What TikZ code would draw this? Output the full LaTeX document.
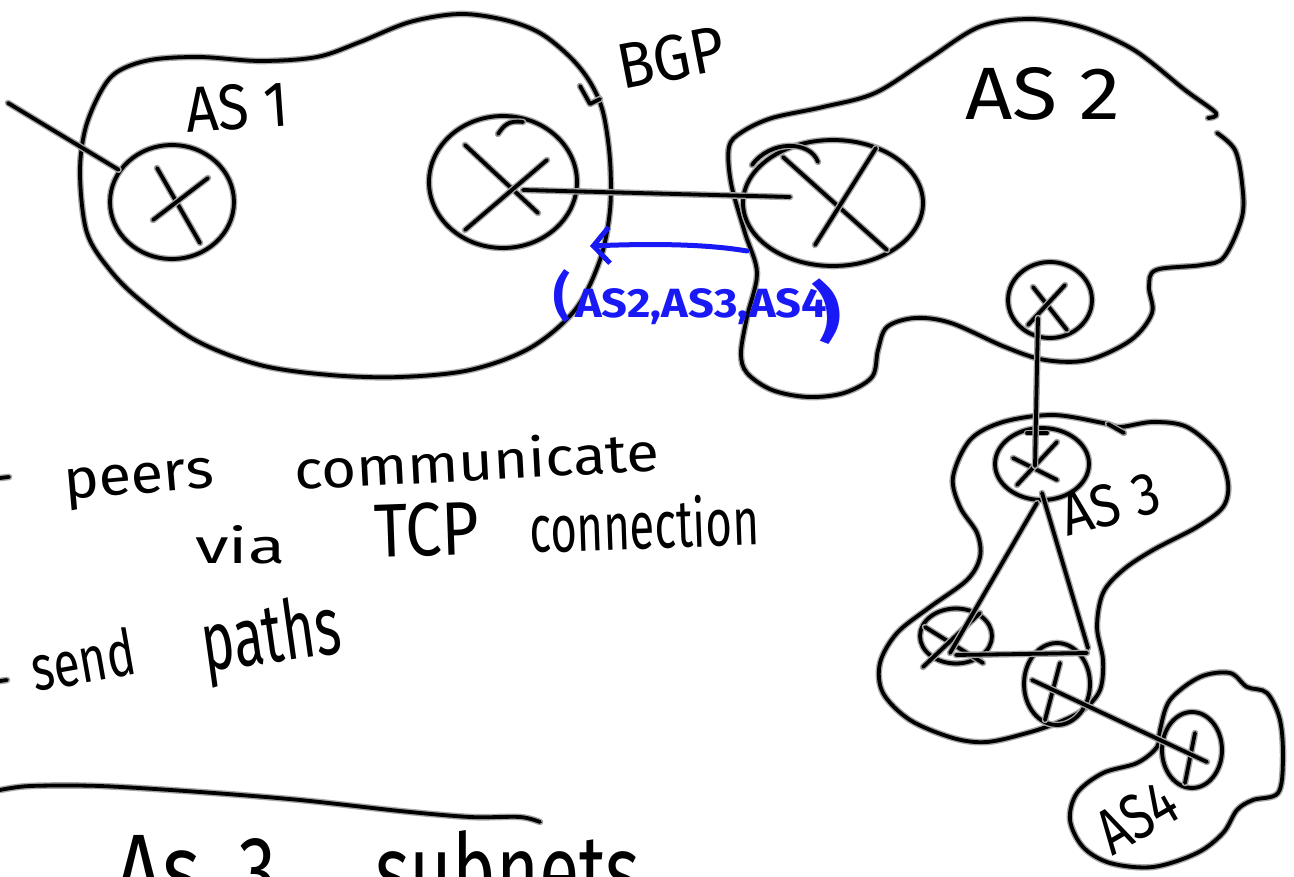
\documentclass[tikz,border=0pt]{standalone}
\usepackage{fontspec}
\setmainfont{Fira Sans}
\usetikzlibrary{shapes.geometric,arrows.meta,calc}
\definecolor{hwblue}{RGB}{25,25,245}
\newcommand{\hwtext}[3]{\resizebox{#1pt}{#2pt}{#3}}
\begin{document}
\begin{tikzpicture}[x=1pt,y=-1pt,
 ink/.style={line width=3.8pt,line cap=round,line join=round,preaction={draw=black!35,line width=6.6pt,line cap=round,line join=round}},
 blueink/.style={draw=hwblue,line width=5pt,line cap=round,line join=round},
 router/.style={ellipse,draw,ink,inner sep=0pt},
 lbl/.style={inner sep=0pt,anchor=base west},
 bluelbl/.style={lbl,text=hwblue},
]
\useasboundingbox (0,0) rectangle (1294,877);
\clip (0,0) rectangle (1294,877);

% ---------- AS outlines ----------
\draw[ink] plot[smooth cycle,tension=0.55] coordinates {
 (80,175) (85,130) (100,93) (117,72) (150,60) (200,57) (260,61) (317,57)
 (360,42) (410,22) (460,14) (505,20) (540,33) (570,57) (590,82) (603,112)
 (610,160) (610,210) (600,260) (575,310) (530,348) (470,370) (400,377)
 (330,375) (260,365) (195,340) (140,300) (110,270) (87,233)};

\draw[ink] plot[smooth,tension=0.55] coordinates {
 (1217,133) (1235,150) (1242,183) (1242,217) (1224,257) (1202,265) (1156,270)
 (1149,287) (1152,313) (1131,340) (1088,360) (1045,360) (1005,347) (951,323)
 (915,318) (887,327) (878,350) (872,377) (844,393) (808,397) (772,390)
 (747,373) (741,353) (747,317) (757,273) (745,233) (731,183) (729,147)
 (742,132) (772,118) (823,107) (875,93) (927,60) (979,27) (1030,19)
 (1082,27) (1134,50) (1185,90) (1216,113) (1208,118)};

\draw[ink] plot[smooth cycle,tension=0.55] coordinates {
 (953,477) (970,440) (1003,422) (1053,415) (1103,423) (1120,427) (1153,422)
 (1187,427) (1217,453) (1228,483) (1223,507) (1197,527) (1153,550)
 (1123,570) (1103,593) (1097,627) (1103,660) (1100,690) (1083,710)
 (1057,723) (1027,733) (987,742) (953,738) (910,720) (883,693) (880,663)
 (897,633) (930,607) (967,580) (980,557) (977,533) (960,507)};
\draw[ink] (1108,424) -- (1124,433);

\draw[ink] plot[smooth cycle,tension=0.55] coordinates {
 (1160,730) (1170,700) (1200,677) (1230,673) (1247,687) (1267,693)
 (1280,720) (1283,760) (1278,793) (1253,800) (1237,810) (1223,833)
 (1197,853) (1153,867) (1110,863) (1083,847) (1070,820) (1077,793)
 (1103,773) (1137,763) (1157,747)};

% ---------- routers ----------
\node[router,minimum width=124pt,minimum height=114pt] (R1) at (172,202) {};
\node[router,minimum width=148pt,minimum height=132pt] (R2) at (503,182) {};
\node[router,minimum width=180pt,minimum height=126pt] (R3) at (833,203) {};
\node[router,minimum width=84pt,minimum height=76pt] (R4) at (1050,300) {};
\node[router,minimum width=94pt,minimum height=72pt] (R5) at (1042,464) {};
\node[router,minimum width=72pt,minimum height=55pt] (R6) at (956,636) {};
\node[router,minimum width=66pt,minimum height=82pt] (R7) at (1057,684) {};
\node[router,minimum width=60pt,minimum height=76pt] (R8) at (1192,750) {};

% crosses
\draw[ink] (R1.center) ++(-15,-34) -- ++(43,75);
\draw[ink] (R1.center) ++(36,-24) -- ++(-55,42);
\draw[ink] (R2.center) ++(-38,-37) -- ++(73,68);
\draw[ink] (R2.center) ++(44,-22) -- ++(-82,70);
\draw[ink] (R2.center) ++(-5,-48) .. controls ++(6,-9) and ++(-14,-2) .. ++(25,-12);
\draw[ink] (R3.center) ++(-50,-46) -- ++(104,93);
\draw[ink] (R3.center) ++(43,-55) -- ++(-61,97);
\draw[ink] (R3.center) ++(-15,-41) .. controls ++(-8,-22) and ++(18,-25) .. ++(-66,3);
\draw[ink] (R4.center) ++(-17,-13) -- ++(34,43);
\draw[ink] (R4.center) ++(15,-15) -- ++(-37,40);
\draw[ink] (R5.center) ++(-29,-6) -- ++(44,22);
\draw[ink] (R5.center) ++(15,-22) -- ++(-40,43);
\draw[ink] (R5.center) ++(-15,-31) -- ++(20,0);
\draw[ink] (R6.center) ++(-31,-9) -- ++(58,36);
\draw[ink] (R6.center) ++(-33,31) -- ++(57,-54);
\draw[ink] (R7.center) ++(3,-21) -- ++(-15,57);
\draw[ink] (R8.center) ++(3,-17) -- ++(-10,50);

% ---------- connectors ----------
\coordinate (ext) at (8,103);
\draw[ink] (ext) -- (R1);
\draw[ink] ($(R2.center)+(20,8)$) -- ($(R3.center)+(-43,-6)$);
\draw[ink] ($(R4.center)+(-12,18)$) -- ($(R5.center)+(-7,2)$);
\draw[ink] ($(R5.center)+(-5,39)$) -- ($(R6.center)+(-6,17)$);
\draw[ink] ($(R5.center)+(0,29)$) -- ($(R7.center)+(31,-36)$);
\draw[ink] ($(R6.center)+(0,19)$) -- ($(R7.center)+(30,-31)$);
\draw[ink] ($(R7.center)+(-25,-4)$) -- ($(R8.center)+(15,12)$);

% BGP pointer and separator
\draw[ink] (580,86) -- (590,104) -- (600,99);
\draw[ink] plot[smooth,tension=0.5] coordinates {(0,790) (30,786) (100,786) (200,792) (300,800) (400,811) (470,817) (520,817) (540,822)};
\draw[ink] (0,478) -- (9,477);
\draw[ink] (0,681) -- (7,680);

% ---------- blue annotation ----------
\coordinate (bs) at (747,251);
\coordinate (be) at (590,246);
\draw[blueink,-{Straight Barb[length=16pt,width=36pt]}] (bs) .. controls (700,243) and (640,244) .. (be);
\node[bluelbl] (lp) at (553,315) {\hwtext{17}{45}{\bfseries (}};
\node[bluelbl] (bt) at (575,318) {\hwtext{252}{29}{\bfseries AS2,AS3,AS4}};
\node[bluelbl,rotate=8] (rp) at (818,336) {\hwtext{26}{56}{\bfseries )}};

% ---------- labels ----------
\node[lbl,rotate=4] (as1) at (187,133) {\hwtext{103}{45}{AS 1}};
\node[lbl,rotate=11] (bgp) at (622,90) {\hwtext{108}{45}{BGP}};
\node[lbl] (as2) at (965,120) {\hwtext{155}{52}{AS 2}};
\node[lbl,rotate=15] (as3) at (1067,537) {\hwtext{100}{42}{AS 3}};
\node[lbl,rotate=30] (as4) at (1112,857) {\hwtext{82}{45}{AS4}};

\node[lbl,rotate=5] (t1) at (65,500) {\hwtext{150}{30}{peers}};
\node[lbl,rotate=3] (t2) at (295,490) {\hwtext{365}{42}{communicate}};
\node[lbl] (t3) at (195,563) {\hwtext{90}{38}{via}};
\node[lbl,rotate=2] (t4) at (375,558) {\hwtext{105}{53}{TCP}};
\node[lbl,rotate=2] (t5) at (530,553) {\hwtext{230}{52}{connection}};
\node[lbl,rotate=10] (t6) at (35,692) {\hwtext{105}{48}{send}};
\node[lbl,rotate=8] (t7) at (205,672) {\hwtext{140}{62}{paths}};

\node[lbl] (b1) at (115,905) {\hwtext{85}{70}{As}};
\node[lbl] (b2) at (238,905) {\hwtext{38}{67}{3}};
\node[lbl] (b3) at (375,905) {\hwtext{265}{75}{subnets}};
\end{tikzpicture}
\end{document}
